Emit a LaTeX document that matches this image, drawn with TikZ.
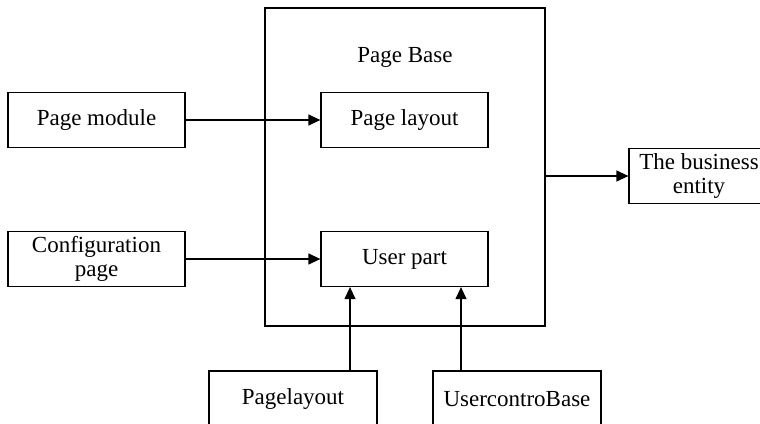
\documentclass[tikz,border=0pt]{standalone}
\usepackage{fontspec}
\setmainfont{Liberation Serif}
\usetikzlibrary{arrows.meta}
\begin{document}
\begin{tikzpicture}[x=1pt,y=-1pt,
  box/.style={draw,line width=1.25pt,inner sep=0pt,align=center,font=\fontsize{23}{24.5}\selectfont},
  lbl/.style={inner sep=0pt,font=\fontsize{23}{24.5}\selectfont},
  conn/.style={line width=1.25pt,-{Triangle[length=12pt,width=11pt]}}]
\useasboundingbox (0,0) rectangle (760,423);
\node[box,minimum width=280,minimum height=318] (base) at (405,167) {};
\node[lbl] (title) at (405,57) {Page Base};
\node[box,minimum width=167,minimum height=55] (pl) at (404.5,120) {Page layout};
\node[box,minimum width=167,minimum height=55] (up) at (404.5,259) {User part};
\node[box,minimum width=177,minimum height=55] (pm) at (96.5,120) {Page module};
\node[box,minimum width=177,minimum height=55] (cp) at (96.5,259) {Configuration\\page};
\node[box,minimum width=140,minimum height=55] (biz) at (699,176) {The business\\entity};
\node[box,minimum width=168,minimum height=56] (pgl) at (293,399) {Pagelayout};
\node[box,minimum width=168,minimum height=56] (ucb) at (517,399) {UsercontroBase};
\coordinate (a1) at (350,0);
\coordinate (a2) at (461,0);
\draw[conn] (pm) -- (pl);
\draw[conn] (cp) -- (up);
\draw[conn] (base.east |- biz) -- (biz);
\draw[conn] (pgl.north -| a1) -- (up.south -| a1);
\draw[conn] (ucb.north -| a2) -- (up.south -| a2);
\end{tikzpicture}
\end{document}
